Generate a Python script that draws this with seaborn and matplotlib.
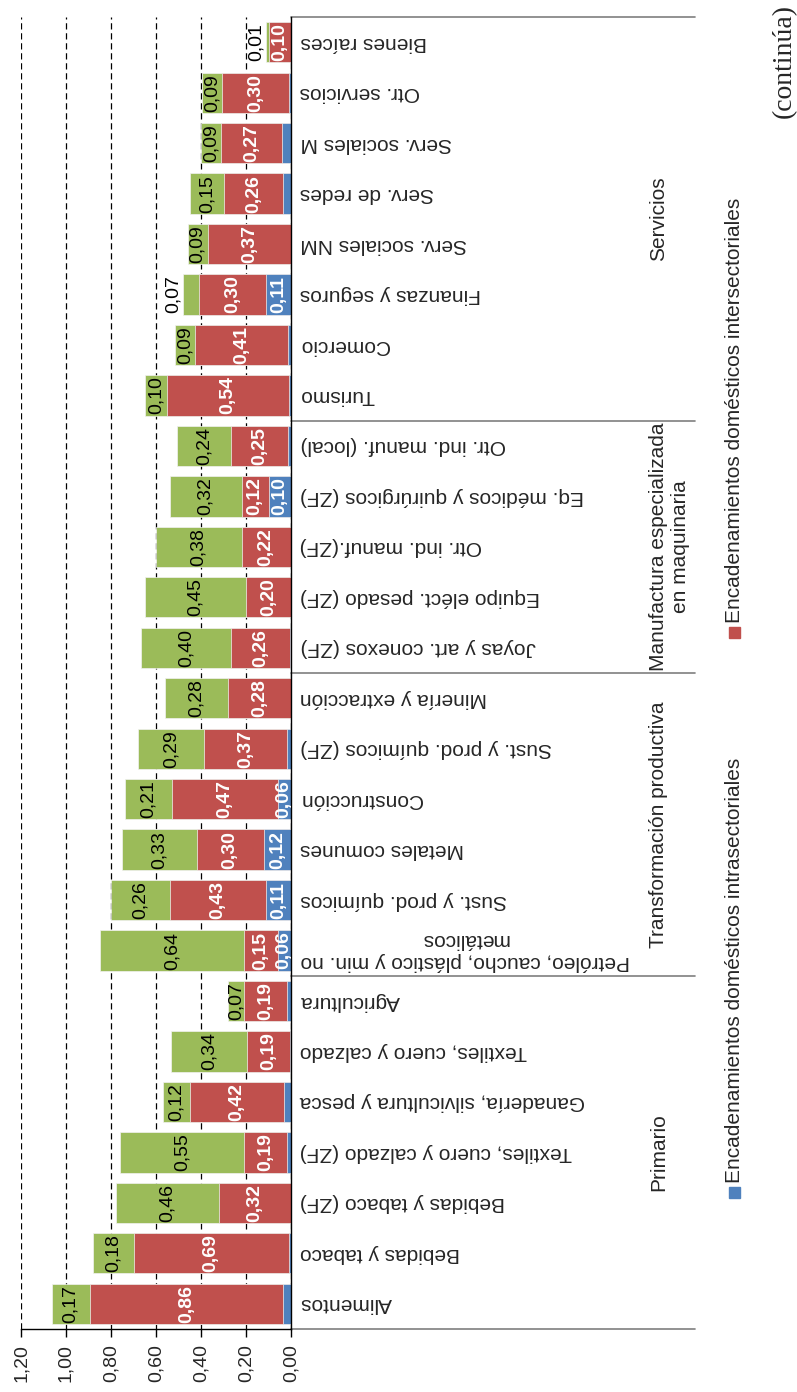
import numpy as np
import pandas as pd
import seaborn as sns
import matplotlib.pyplot as plt
from matplotlib.patches import Rectangle

# datos
sectores = ["Alimentos", "Bebidas y tabaco", "Bebidas y tabaco (ZF)",
            "Textiles, cuero y calzado (ZF)", "Ganadería, silvicultura y pesca",
            "Textiles, cuero y calzado", "Agricultura",
            "Petróleo, caucho, plástico y min. no\nmetálicos", "Sust. y prod. químicos",
            "Metales comunes", "Construcción", "Sust. y prod. químicos (ZF)",
            "Minería y extracción", "Joyas y art. conexos (ZF)", "Equipo eléct. pesado (ZF)",
            "Otr. ind. manuf.(ZF)", "Eq. médicos y quirúrgicos (ZF)", "Otr. ind. manuf. (local)",
            "Turismo", "Comercio", "Finanzas y seguros", "Serv. sociales NM",
            "Serv. de redes", "Serv. sociales M", "Otr. servicios", "Bienes raíces"]
intra = [0.034, 0.010, 0.0, 0.019, 0.031, 0.004, 0.019, 0.06, 0.11, 0.12, 0.06, 0.018, 0.0,
         0.006, 0.0, 0.0, 0.10, 0.015, 0.009, 0.015, 0.11, 0.0, 0.037, 0.041, 0.007, 0.0]
inter = [0.86, 0.69, 0.32, 0.19, 0.42, 0.19, 0.19, 0.15, 0.43, 0.30, 0.47, 0.37, 0.28,
         0.26, 0.20, 0.22, 0.12, 0.25, 0.54, 0.41, 0.30, 0.37, 0.26, 0.27, 0.30, 0.10]
otros = [0.17, 0.18, 0.46, 0.55, 0.12, 0.34, 0.07, 0.64, 0.26, 0.33, 0.21, 0.29, 0.28,
         0.40, 0.45, 0.38, 0.32, 0.24, 0.10, 0.09, 0.07, 0.09, 0.15, 0.09, 0.09, 0.01]
grupos = ["Primario", "Transformación productiva",
          "Manufactura especializada\nen maquinaria", "Servicios"]
n_por_grupo = [7, 6, 5, 8]
leyenda = ["Encadenamientos domésticos intrasectoriales",
           "Encadenamientos domésticos intersectoriales"]
ticks = [0.0, 0.2, 0.4, 0.6, 0.8, 1.0, 1.2]

# etiquetas verdes que van fuera de la barra
fuera = {"Finanzas y seguros", "Bienes raíces"}

azul, rojo, verde = "#4F81BD", "#C0504D", "#9BBB59"

sns.set_style("white")
plt.rcParams['font.family'] = ['Liberation Sans', 'DejaVu Sans']

df = pd.DataFrame({"sector": sectores, "intra": intra, "inter": inter, "otros": otros})
df["c1"] = df["intra"]
df["c2"] = df["intra"] + df["inter"]
df["c3"] = df["c2"] + df["otros"]

fig = plt.figure(figsize=(7.97, 13.92), dpi=100)
ax = fig.add_axes([21/797, 63/1392, 270/797, 1312/1392])

for col, c in [("c3", verde), ("c2", rojo), ("c1", azul)]:
    sns.barplot(data=df, x=col, y="sector", order=sectores, orient="h", color=c,
                saturation=1, width=0.8, errorbar=None, edgecolor="#f2f2f2",
                linewidth=0.5, ax=ax)

ax.set_xlim(1.2, 0)
ax.set_ylim(-0.5, len(sectores) - 0.5)
ax.set_xlabel("")
ax.set_ylabel("")

def fmt(v):
    return f"{v:.2f}".replace(".", ",")

ax.set_xticks(ticks)
ax.set_xticklabels([fmt(t) for t in ticks], rotation=90, fontsize=14)
ax.tick_params(axis="x", direction="out", length=6, width=1, color="black", pad=5, bottom=True)
ax.grid(axis="x", color="black", linestyle=(0, (5, 3)), linewidth=0.9)
ax.grid(axis="y", visible=False)
ax.set_axisbelow(True)

ax.yaxis.tick_right()
ax.set_yticks(range(len(sectores)))
ax.set_yticklabels(sectores, rotation=180, ha="left", va="center",
                   multialignment="center", fontsize=15)
ax.tick_params(axis="y", length=0, pad=6.5)

for s in ["left", "top"]:
    ax.spines[s].set_visible(False)
for s in ["bottom", "right"]:
    ax.spines[s].set_visible(True)
    ax.spines[s].set_color("black")
    ax.spines[s].set_linewidth(1)

# etiquetas de valores
for i, row in df.iterrows():
    if row["intra"] >= 0.05:
        ax.text(row["c1"] / 2, i, fmt(row["intra"]), rotation=90, ha="center", va="center",
                color="white", fontweight="bold", fontsize=14)
    ax.text((row["c1"] + row["c2"]) / 2, i, fmt(row["inter"]), rotation=90, ha="center",
            va="center", color="white", fontweight="bold", fontsize=14)
    if row["sector"] in fuera:
        ax.text(row["c3"] + 0.005, i, fmt(row["otros"]), rotation=90, ha="right",
                va="center", color="black", fontsize=14)
    else:
        ax.text((row["c2"] + row["c3"]) / 2, i, fmt(row["otros"]), rotation=90,
                ha="center", va="center", color="black", fontsize=14)

# eje de categorías con grupos
tr = ax.get_yaxis_transform()
x_end = (695 - 21) / 270
bounds = np.concatenate([[0], np.cumsum(n_por_grupo)]) - 0.5
for b in bounds:
    ax.plot([1, x_end], [b, b], transform=tr, color="#7f7f7f", lw=1.2, clip_on=False)
x_grp = (649 - 21) / 270
for g, lo, hi in zip(grupos, bounds[:-1], bounds[1:]):
    ax.text(x_grp, (lo + hi) / 2, g, transform=tr, rotation=90, rotation_mode="anchor",
            ha="center", va="top", multialignment="center", fontsize=15, clip_on=False)

# leyenda
for txt, c, py in [(leyenda[0], azul, 1192), (leyenda[1], rojo, 632)]:
    fig.add_artist(Rectangle((729/797, 1 - (py + 6)/1392), 11/797, 11/1392,
                             transform=fig.transFigure, color=c))
    fig.text(735/797, 1 - (py - 9)/1392, txt, rotation=90, rotation_mode="anchor",
             ha="left", va="center", fontsize=15)

fig.text(784/797, 1 - 118/1392, "(continúa)", rotation=90, rotation_mode="anchor",
         ha="left", va="center", fontsize=20, family=["Liberation Serif", "DejaVu Serif"])

fig.savefig("out.png", dpi=100)
